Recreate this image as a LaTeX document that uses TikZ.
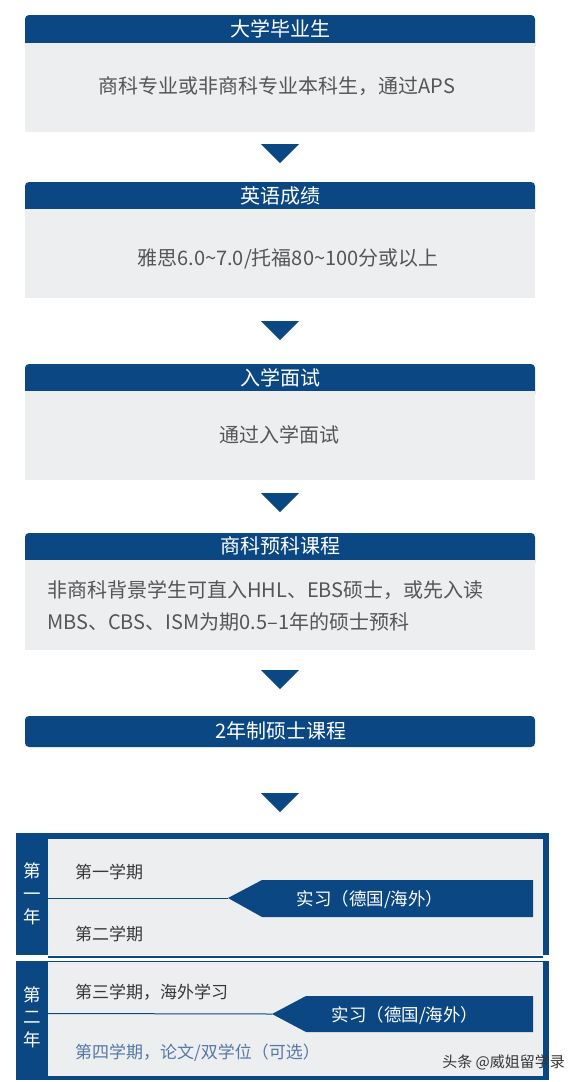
\documentclass[tikz,border=0pt]{standalone}
\usepackage{fontspec}
\setmainfont{Noto Sans CJK SC}
\definecolor{navy}{RGB}{11,72,131}
\definecolor{panel}{RGB}{237,238,240}
\definecolor{bodytxt}{RGB}{85,85,85}
\definecolor{semtxt}{RGB}{55,55,55}
\definecolor{bluetxt}{RGB}{85,120,165}
\begin{document}
\begin{tikzpicture}[x=1pt,y=-1pt,
  basetxt/.style={inner sep=0pt,text height=0.88em,text depth=0.12em,yshift=-3.5pt},
  hdrtxt/.style={basetxt,text=white,font=\fontsize{20}{22}\selectfont},
  bodytext/.style={basetxt,text=bodytxt,font=\fontsize{20}{22}\selectfont},
  semtext/.style={basetxt,text=semtxt,font=\fontsize{17}{18}\selectfont,anchor=west},
  yeartxt/.style={basetxt,text=white,font=\fontsize{17.5}{18}\selectfont},
  bantxt/.style={basetxt,text=white,font=\fontsize{17.5}{18}\selectfont},
  hdrband/.style={fill=navy,rounded corners=4pt},
  panelbox/.style={fill=panel},
  marker/.style={fill=navy}]
\useasboundingbox (0,0) rectangle (578,1082);
\fill[white] (0,0) rectangle (578,1082);

% ---- Box 1
\fill[hdrband] (25,15) rectangle (535,50);
\fill[panelbox] (25,43) rectangle (535,132);
\node[hdrtxt] (h1) at (280,29) {大学毕业生};
\node[bodytext] (b1) at (277,86) {商科专业或非商科专业本科生，通过APS};

% ---- Box 2
\fill[hdrband] (25,182) rectangle (535,216);
\fill[panelbox] (25,209) rectangle (535,298);
\node[hdrtxt] (h2) at (280,196) {英语成绩};
\node[bodytext] (b2) at (288,258) {雅思6.0\textasciitilde7.0/托福80\textasciitilde100分或以上};

% ---- Box 3
\fill[hdrband] (25,364) rectangle (535,398);
\fill[panelbox] (25,391) rectangle (535,480);
\node[hdrtxt] (h3) at (280,378) {入学面试};
\node[bodytext] (b3) at (279,435) {通过入学面试};

% ---- Box 4
\fill[hdrband] (25,533) rectangle (535,567);
\fill[panelbox] (25,560) rectangle (535,650);
\node[hdrtxt] (h4) at (280,546) {商科预科课程};
\node[bodytext,anchor=west] (b4a) at (47,590) {非商科背景学生可直入HHL、EBS硕士，或先入读};
\node[bodytext,anchor=west] (b4b) at (47,622) {MBS、CBS、ISM为期0.5\textendash1年的硕士预科};

% ---- Box 5
\fill[hdrband] (25,716) rectangle (535,747);
\node[hdrtxt] (h5) at (281,731) {2年制硕士课程};

% ---- Arrow markers
\foreach \t in {144,321,493,670,793}{
  \fill[marker] (261,\t) -- (299,\t) -- (280,\t+19) -- cycle;
}

% ---- Year 1
\fill[navy] (16,833) rectangle (549,955);
\fill[panelbox] (48,839) rectangle (543,955);
\draw[navy,line width=1.5pt] (48,957) -- (543,957);
\coordinate (tip1) at (228,898);
\fill[navy] (tip1) -- (262,880) -- (533,880) -- (533,917) -- (262,917) -- cycle;
\draw[navy,line width=1pt] (48,898) -- (tip1);
\node[yeartxt] (y1a) at (32,870) {第};
\node[yeartxt] (y1b) at (32,893) {一};
\node[yeartxt] (y1c) at (32,916) {年};
\node[semtext] (s1) at (75,871) {第一学期};
\node[semtext] (s2) at (75,933) {第二学期};
\node[bantxt] (i1) at (370,898) {实习（德国/海外）};

% ---- Year 2
\fill[navy] (16,961) rectangle (549,1080);
\fill[panelbox] (48,962) rectangle (543,1076);
\coordinate (tip2) at (272,1014);
\fill[navy] (tip2) -- (306,996) -- (533,996) -- (533,1032) -- (306,1032) -- cycle;
\draw[navy,line width=1pt] (48,1013.5) -- (tip2);
\node[yeartxt] (y2a) at (32,994) {第};
\node[yeartxt] (y2b) at (32,1016) {二};
\node[yeartxt] (y2c) at (32,1039) {年};
\node[semtext] (s3) at (75,991) {第三学期，海外学习};
\node[semtext,text=bluetxt] (s4) at (75,1051) {第四学期，论文/双学位（可选）};
\node[bantxt] (i2) at (405,1014) {实习（德国/海外）};

% ---- watermark
\node[basetxt,text=semtxt,font=\fontsize{15}{16}\selectfont,anchor=east] (wm) at (565,1060) {头条 @威姐留学录};
\end{tikzpicture}
\end{document}
